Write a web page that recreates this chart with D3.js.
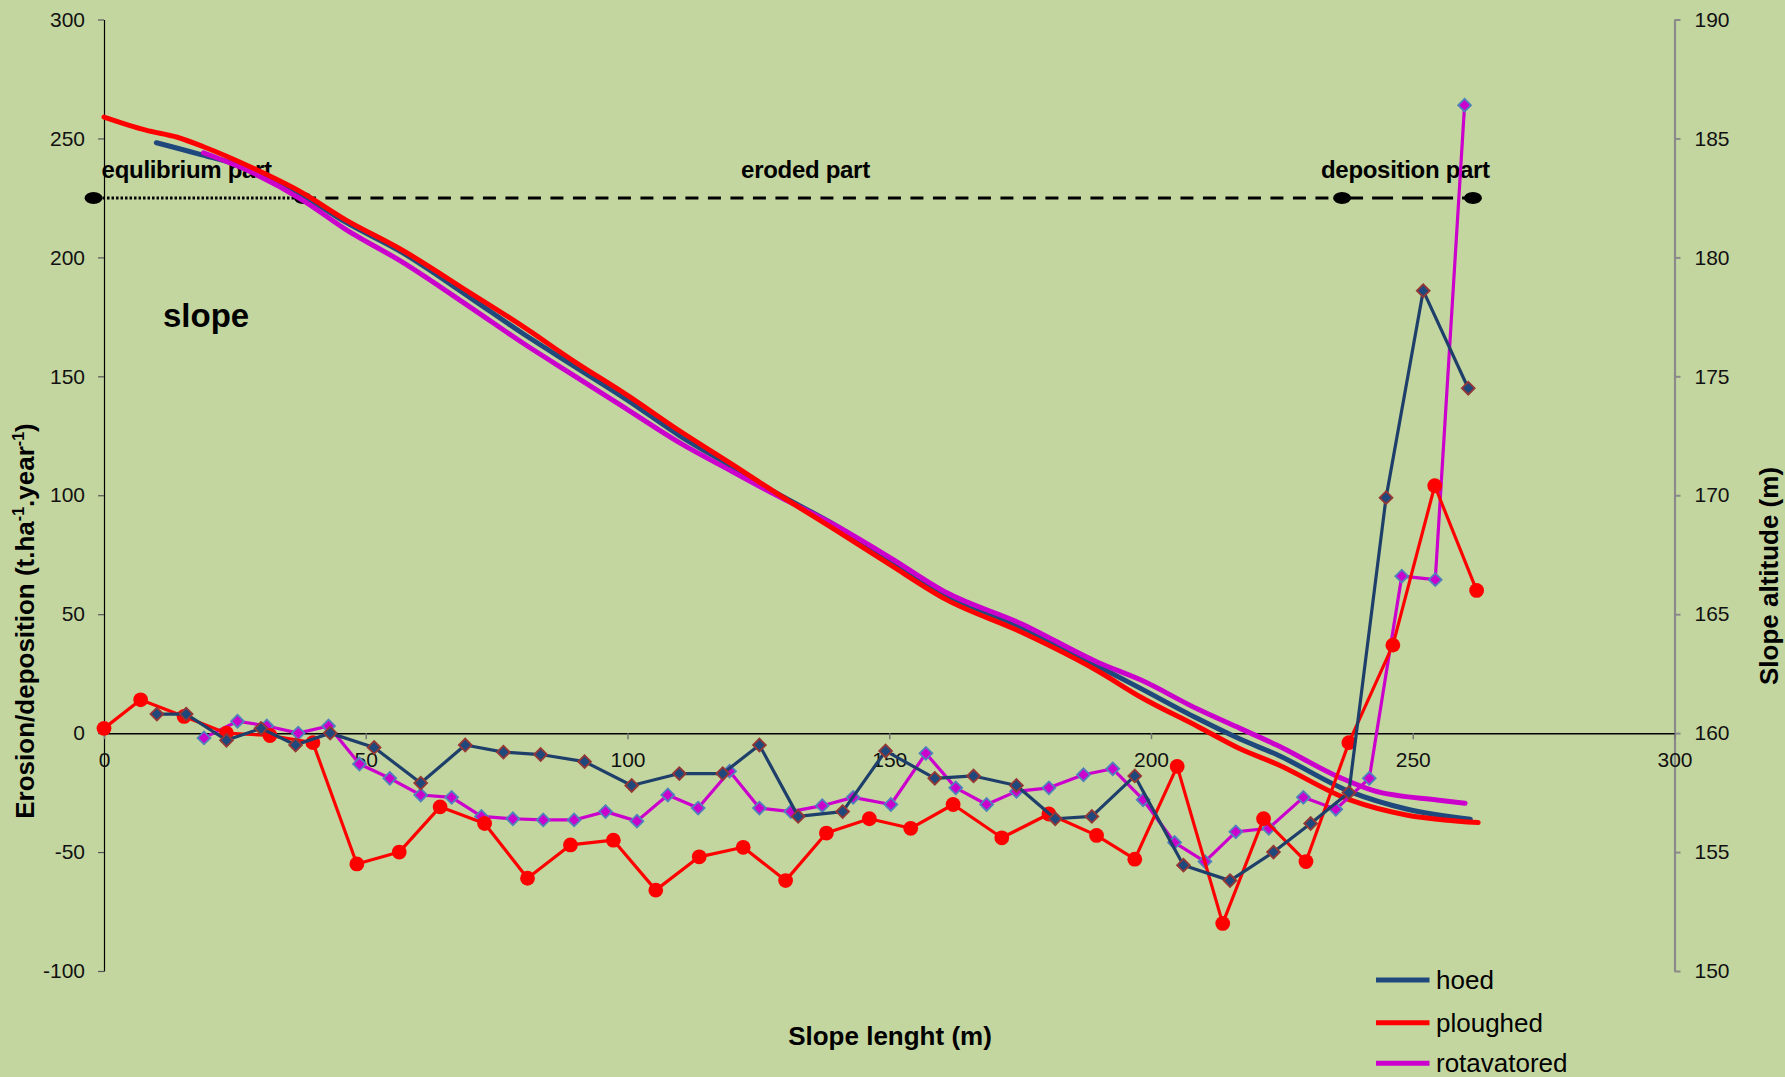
<!DOCTYPE html>
<html>
<head>
<meta charset="utf-8">
<script src="https://cdn.jsdelivr.net/npm/d3@7"></script>
<style>
  html, body { margin: 0; padding: 0; background: #c4d6a0; }
  svg { display: block; font-family: "Liberation Sans", Arial, sans-serif; }
</style>
</head>
<body>
<svg id="chart" width="1785" height="1077"></svg>
<script>
// ---- data ----
const seriesNames = ["hoed", "ploughed", "rotavatored"];

const hoedX = [10.1, 15.7, 23.4, 30, 36.6, 43.2, 51.6, 60.5, 69, 76.3, 83.4, 91.8, 100.8, 109.9, 118.2, 125.2, 132.6, 141.1, 149.3, 158.7, 166.1, 174.3, 181.7, 188.7, 196.9, 206.2, 215.1, 223.4, 230.5, 237.8, 244.9, 252, 260.6];
const hoedRate = [8, 8, -3, 2, -5, 0, -6, -21, -5, -8, -9, -12, -22, -17, -17, -5, -35, -33, -7.5, -19, -18, -22, -36, -35, -18, -55.5, -62, -50, -38, -25, 99, 186, 145];

const ploughX = [0, 7, 15.3, 23.4, 31.7, 39.9, 48.3, 56.4, 64.2, 72.7, 80.9, 89.1, 97.3, 105.4, 113.7, 122.1, 130.2, 138, 146.2, 154.1, 162.2, 171.5, 180.5, 189.6, 196.9, 205, 213.7, 221.5, 229.6, 237.8, 246.2, 254.2, 262.2];
const ploughRate = [2, 14, 7, 0, -1, -4, -55, -50, -31, -38, -61, -47, -45, -66, -52, -48, -62, -42, -36, -40, -30, -44, -34, -43, -53, -14, -80, -36, -54, -4, 37, 104, 60];

const rotX = [19.1, 25.5, 31.1, 37.1, 42.9, 48.8, 54.6, 60.5, 66.4, 72.1, 78.1, 83.9, 89.8, 95.8, 101.8, 107.7, 113.5, 119.5, 125.2, 131.2, 137.2, 143.1, 150.3, 157, 162.7, 168.6, 174.3, 180.5, 187.1, 192.7, 198.5, 204.5, 210.3, 216.2, 222.5, 229.1, 235.3, 241.7, 247.9, 254.3, 259.9];
const rotRate = [-2, 5, 3, 0, 3, -13, -19, -26, -27, -35, -36, -36.5, -36.5, -33, -37, -26, -31.5, -16, -31.5, -33, -30.5, -27, -30, -8.5, -23, -30, -24.5, -23, -17.5, -15, -28, -46, -54, -41.5, -40, -27, -32, -19, 66, 64.5, 264];

// slope altitude profiles (right axis, m)
const hoedAltX = [10, 18, 28, 38, 46, 57, 70, 80, 90, 100, 110, 120, 128, 140, 150, 161, 175, 190, 198, 209, 217, 224, 238, 249, 261];
const hoedAlt = [184.82, 184.35, 183.7, 182.6, 181.5, 180.2, 178.3, 176.8, 175.4, 174.0, 172.5, 171.2, 170.15, 168.7, 167.3, 165.8, 164.48, 162.8, 161.88, 160.6, 159.75, 159.1, 157.54, 156.8, 156.38];
const ploughAltX = [0, 8, 14, 19, 28, 38, 46, 57, 70, 80, 90, 100, 110, 120, 128, 140, 150, 161, 175, 190, 198, 209, 217, 224, 238, 249, 256, 262.5];
const ploughAlt = [185.9, 185.35, 185.05, 184.65, 183.8, 182.7, 181.6, 180.3, 178.5, 177.1, 175.6, 174.2, 172.7, 171.3, 170.15, 168.5, 167.1, 165.6, 164.27, 162.59, 161.52, 160.27, 159.34, 158.7, 157.19, 156.55, 156.35, 156.24];
const rotAltX = [19, 28, 38, 46, 57, 70, 80, 90, 100, 110, 120, 128, 140, 150, 161, 175, 190, 198, 209, 217, 224, 236, 242.5, 255, 260];
const rotAlt = [184.4, 183.6, 182.4, 181.2, 179.8, 177.9, 176.4, 175.0, 173.6, 172.2, 171.0, 170.05, 168.7, 167.4, 165.9, 164.62, 162.96, 162.24, 161.0, 160.2, 159.5, 158.14, 157.58, 157.18, 157.05];

const xTicks = [0, 50, 100, 150, 200, 250, 300];
const yLeftTicks = [-100, -50, 0, 50, 100, 150, 200, 250, 300];
const yRightTicks = [150, 155, 160, 165, 170, 175, 180, 185, 190];

// zones along the slope (m) and their labels
const zoneBounds = [-2, 38, 236.5, 261.5];
const zoneLabels = ["equlibrium part", "eroded part", "deposition part"];
const zoneLabelX = [15.8, 134, 248.6];
const zoneLevel = 225;

// ---- drawing ----
const W = 1785, H = 1077;
const svg = d3.select("#chart");
svg.append("rect").attr("width", W).attr("height", H).attr("fill", "#c4d6a0");

const x = d3.scaleLinear().domain([0, 300]).range([104, 1674.5]);
const yL = d3.scaleLinear().domain([-100, 300]).range([971, 19.5]);
const yR = d3.scaleLinear().domain([150, 190]).range([971, 19.5]);
const plain = d => String(d);

// left axis
const gL = svg.append("g").attr("transform", `translate(${x(0)},0)`)
  .call(d3.axisLeft(yL).tickValues(yLeftTicks).tickFormat(plain).tickSize(6).tickSizeOuter(0).tickPadding(13));
gL.select(".domain").attr("stroke", "#000").attr("stroke-width", 1.2);
gL.selectAll(".tick line").attr("stroke", "#555").attr("stroke-width", 1.2);
gL.selectAll(".tick text").attr("font-size", 21).attr("fill", "#111")
  .attr("font-family", "Liberation Sans, Arial, sans-serif");

// right axis
const gR = svg.append("g").attr("transform", `translate(${x(300)},0)`)
  .call(d3.axisRight(yR).tickValues(yRightTicks).tickFormat(plain).tickSize(6).tickSizeOuter(0).tickPadding(14));
gR.select(".domain").attr("stroke", "#8a8a8a").attr("stroke-width", 2.2);
gR.selectAll(".tick line").attr("stroke", "#8a8a8a").attr("stroke-width", 2);
gR.selectAll(".tick text").attr("font-size", 21).attr("fill", "#111")
  .attr("font-family", "Liberation Sans, Arial, sans-serif");

// x axis at zero
const gX = svg.append("g").attr("transform", `translate(0,${yL(0)})`)
  .call(d3.axisBottom(x).tickValues(xTicks).tickFormat(plain).tickSize(6).tickSizeOuter(0).tickPadding(12.6));
gX.select(".domain").attr("stroke", "#000").attr("stroke-width", 1.5);
gX.selectAll(".tick line").attr("stroke", "#777").attr("stroke-width", 1.5);
gX.selectAll(".tick text").attr("font-size", 21).attr("fill", "#111")
  .attr("font-family", "Liberation Sans, Arial, sans-serif");

// axis titles
svg.append("text").attr("x", 890).attr("y", 1045).attr("text-anchor", "middle")
  .attr("font-size", 26).attr("font-weight", "bold").text("Slope lenght (m)");

const lt = svg.append("text").attr("transform", "translate(34,621) rotate(-90)")
  .attr("text-anchor", "middle").attr("font-size", 26).attr("font-weight", "bold");
lt.append("tspan").text("Erosion/deposition (t.ha");
lt.append("tspan").attr("font-size", 16).attr("dy", -10).text("-1");
lt.append("tspan").attr("dy", 10).text(".year");
lt.append("tspan").attr("font-size", 16).attr("dy", -10).text("-1");
lt.append("tspan").attr("dy", 10).text(")");

svg.append("text").attr("transform", "translate(1778,576) rotate(-90)")
  .attr("text-anchor", "middle").attr("font-size", 26).attr("font-weight", "bold")
  .text("Slope altitude (m)");

// "slope" label
svg.append("text").attr("x", 163).attr("y", 327).attr("font-size", 33)
  .attr("font-weight", "bold").text("slope");

// zone line and labels
const zy = yL(zoneLevel);
svg.append("line").attr("x1", x(zoneBounds[0])).attr("x2", x(zoneBounds[1]))
  .attr("y1", zy).attr("y2", zy).attr("stroke", "#000").attr("stroke-width", 3)
  .attr("stroke-dasharray", "2.5,2");
svg.append("line").attr("x1", x(zoneBounds[1])).attr("x2", x(zoneBounds[2]))
  .attr("y1", zy).attr("y2", zy).attr("stroke", "#000").attr("stroke-width", 3)
  .attr("stroke-dasharray", "13,9.5");
svg.append("line").attr("x1", x(zoneBounds[2])).attr("x2", x(zoneBounds[3]))
  .attr("y1", zy).attr("y2", zy).attr("stroke", "#000").attr("stroke-width", 3)
  .attr("stroke-dasharray", "21,9");
svg.selectAll("ellipse.zone").data(zoneBounds).join("ellipse").attr("class", "zone")
  .attr("cx", d => x(d)).attr("cy", zy).attr("rx", 9).attr("ry", 6).attr("fill", "#000");
svg.selectAll("text.zone").data(zoneLabels).join("text").attr("class", "zone")
  .attr("x", (d, i) => x(zoneLabelX[i])).attr("y", 178).attr("text-anchor", "middle")
  .attr("font-size", 24).attr("font-weight", "bold").attr("letter-spacing", -0.3)
  .text(d => d);

// altitude profiles
const altLine = d3.line().x(d => x(d[0])).y(d => yR(d[1])).curve(d3.curveMonotoneX);
const profiles = [
  { xs: hoedAltX, ys: hoedAlt, color: "#1f497d" },
  { xs: rotAltX, ys: rotAlt, color: "#cc00cc" },
  { xs: ploughAltX, ys: ploughAlt, color: "#ff0000" }
];
profiles.forEach(p => {
  svg.append("path").datum(p.xs.map((v, i) => [v, p.ys[i]]))
    .attr("d", altLine).attr("fill", "none").attr("stroke", p.color)
    .attr("stroke-width", 5).attr("stroke-linecap", "round");
});

// erosion/deposition rate series
const rateLine = d3.line().x(d => x(d[0])).y(d => yL(d[1]));

function drawSeries(xs, ys, lineColor, markerType, fill, stroke) {
  const pts = xs.map((v, i) => [v, ys[i]]);
  const g = svg.append("g");
  g.append("path").datum(pts).attr("d", rateLine).attr("fill", "none")
    .attr("stroke", lineColor).attr("stroke-width", 3.2).attr("stroke-linejoin", "round");
  if (markerType === "circle") {
    g.selectAll("circle").data(pts).join("circle")
      .attr("cx", d => x(d[0])).attr("cy", d => yL(d[1])).attr("r", 7.4)
      .attr("fill", fill);
  } else {
    g.selectAll("path.m").data(pts).join("path").attr("class", "m")
      .attr("d", d3.symbol().type(d3.symbolSquare).size(82))
      .attr("transform", d => `translate(${x(d[0])},${yL(d[1])}) rotate(45)`)
      .attr("fill", fill).attr("stroke", stroke).attr("stroke-width", 1.8);
  }
}
drawSeries(rotX, rotRate, "#cc00cc", "diamond", "#cc00cc", "#4f81bd");
drawSeries(ploughX, ploughRate, "#ff0000", "circle", "#ff0000", null);
drawSeries(hoedX, hoedRate, "#1f3f6b", "diamond", "#1f497d", "#953735");

// legend
const legendColors = ["#1f497d", "#ff0000", "#cc00cc"];
const legendY = [980, 1022.7, 1063.3];
const lg = svg.append("g");
seriesNames.forEach((n, i) => {
  lg.append("line").attr("x1", 1376).attr("x2", 1429.5).attr("y1", legendY[i]).attr("y2", legendY[i])
    .attr("stroke", legendColors[i]).attr("stroke-width", 5);
  lg.append("text").attr("x", 1436).attr("y", legendY[i]).attr("dy", "0.35em")
    .attr("font-size", 26).attr("fill", "#000").text(n);
});
</script>
</body>
</html>
